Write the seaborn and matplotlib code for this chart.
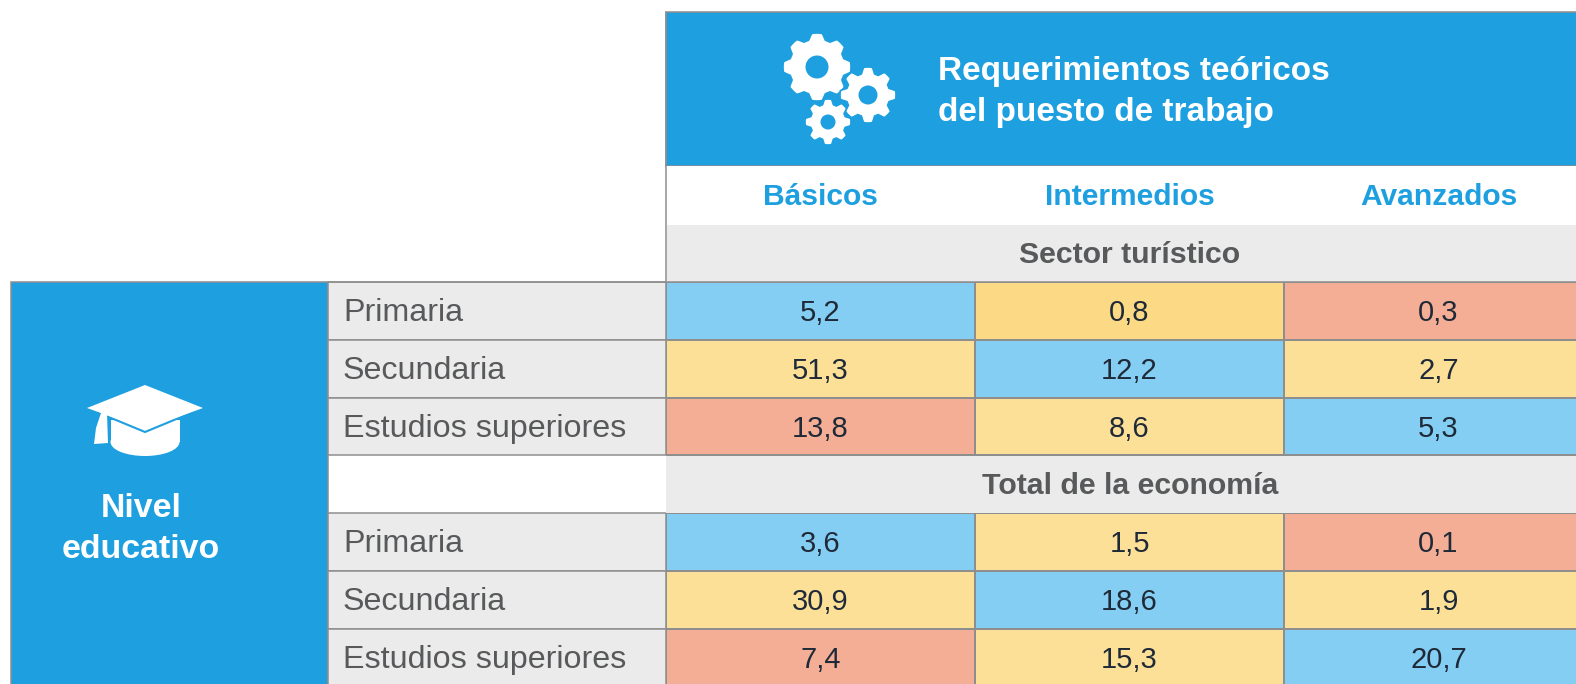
import numpy as np
import seaborn as sns
import matplotlib.pyplot as plt
from matplotlib.colors import ListedColormap
from matplotlib.patches import Rectangle, Polygon, Circle, Ellipse

# Table contents
columns = ["Básicos", "Intermedios", "Avanzados"]
row_labels = ["Primaria", "Secundaria", "Estudios superiores"]
sector_values = [["5,2", "0,8", "0,3"], ["51,3", "12,2", "2,7"], ["13,8", "8,6", "5,3"]]
total_values = [["3,6", "1,5", "0,1"], ["30,9", "18,6", "1,9"], ["7,4", "15,3", "20,7"]]
# colour group per cell: 0 blue, 1 yellow, 2 salmon, 3 darker yellow
sector_groups = [[0, 3, 2], [1, 0, 1], [2, 1, 0]]
total_groups = [[0, 1, 2], [1, 0, 1], [2, 1, 0]]
section_titles = ["Sector turístico", "Total de la economía"]
header_title = "Requerimientos teóricos\ndel puesto de trabajo"
side_title = "Nivel\neducativo"

BLUE = "#1d9fe0"
GREY = "#ebebeb"
LINE = "#8e8e8e"
TEXT = "#58595b"
palette = ["#85cef3", "#fde098", "#f3ae95", "#fbd985"]

W, H = 1576, 684
TABLE_X, TABLE_Y = 666, 282
CELL_W, CELL_H = 309, 57.8

sns.set_theme(style="white")
plt.rcParams["font.family"] = ["Liberation Sans", "DejaVu Sans"]

fig = plt.figure(figsize=(W / 100, H / 100), dpi=100)

# Pixel-space layer for the frames, labels and icons
bg = fig.add_axes([0, 0, 1, 1])
bg.set_xlim(0, W)
bg.set_ylim(H, 0)
bg.axis("off")

bg.add_patch(Rectangle((TABLE_X, 12), W, 154, fc=BLUE, ec=LINE, lw=1.1))
bg.add_patch(Rectangle((TABLE_X, 166), W, 59, fc="white", ec="none"))
bg.plot([TABLE_X, TABLE_X], [12, 282], color=LINE, lw=1.1)
bg.add_patch(Rectangle((TABLE_X + 1, 225), W, 57, fc=GREY, ec="none"))
bg.add_patch(Rectangle((11, TABLE_Y), 317, H, fc=BLUE, ec=LINE, lw=1.1))
bg.plot([328, W], [TABLE_Y, TABLE_Y], color=LINE, lw=1.1)


def gear(cx, cy, outer, root, hole):
    theta = np.linspace(0, 2 * np.pi, 800)
    r = root + (outer - root) * np.clip(0.9 * np.cos(8 * theta) + 0.7, 0, 1)
    pts = np.column_stack([cx + r * np.cos(theta), cy + r * np.sin(theta)])
    bg.add_patch(Polygon(pts, fc="white", ec=BLUE, lw=1.2, joinstyle="round"))
    bg.add_patch(Circle((cx, cy), hole, fc=BLUE, ec="none"))


gear(817, 67, 34, 28, 11.5)
gear(868, 95, 28, 22, 9.5)
gear(828, 122, 23, 18, 7.5)

# Graduation cap
bg.add_patch(Ellipse((145, 442), 69, 28, fc="white", ec="none"))
bg.add_patch(Polygon([(111, 420), (180, 420), (180, 442), (111, 442)], fc="white", ec="none"))
bg.add_patch(Polygon([(87, 408), (145, 385), (203, 408), (145, 432)], fc="white", ec=BLUE, lw=1.5))
bg.add_patch(Polygon([(87, 408), (145, 385), (203, 408), (145, 429)], fc="white", ec="none"))
bg.add_patch(Polygon([(101, 413), (107, 414), (108, 443), (94, 444), (96, 428)], fc="white", ec="none"))

bg.text(938, 92, header_title, color="white", fontsize=24, fontweight="bold",
        ha="left", va="center", linespacing=1.43)
bg.text(141, 529, side_title, color="white", fontsize=24.4, fontweight="bold",
        ha="center", va="center", linespacing=1.41)

# Row labels left of the grid
for s, top in enumerate([0, 4]):
    for i, label in enumerate(row_labels):
        y = TABLE_Y + (top + i) * CELL_H
        bg.add_patch(Rectangle((328, y), TABLE_X - 328, CELL_H, fc=GREY, ec=LINE, lw=1.1))
        bg.text(343, y + CELL_H / 2 + 2, label, color=TEXT, fontsize=23.2, ha="left", va="center")

# Grid: section row stays empty so only real cells get colour
groups = np.array(sector_groups + [[np.nan] * 3] + total_groups)
annot = np.array(sector_values + [[""] * 3] + total_values)

ax = fig.add_axes([TABLE_X / W, 0, (W - TABLE_X) / W, (H - TABLE_Y) / H])
sns.heatmap(
    groups,
    ax=ax,
    cmap=ListedColormap(palette),
    vmin=0,
    vmax=3,
    annot=annot,
    fmt="",
    annot_kws={"fontsize": 21, "color": "#1f2a38"},
    linewidths=1.1,
    linecolor=LINE,
    cbar=False,
    xticklabels=False,
    yticklabels=False,
)
ax.patch.set_alpha(0)
ax.set_xlim(0, (W - TABLE_X) / CELL_W)
ax.set_ylim((H - TABLE_Y) / CELL_H, 0)

# annotations sit slightly below the cell centre in the original
for t in ax.texts:
    x0, y0 = t.get_position()
    t.set_position((x0, y0 + 0.035))

# Section band covers the grid lines of the empty row
ax.add_patch(Rectangle((0, 3.01), 3, 0.98, fc=GREY, ec="none", zorder=3))

for j, name in enumerate(columns):
    centre = 1439 if j == 2 else TABLE_X + (j + 0.5) * CELL_W
    bg.text(centre, 197, name, color=BLUE, fontsize=21.6, fontweight="bold", ha="center", va="center")

bg.text(1130, 255, section_titles[0], color=TEXT, fontsize=21.8, fontweight="bold", ha="center", va="center")
ax.text((1130 - TABLE_X) / CELL_W, 3.53, section_titles[1], color=TEXT, fontsize=21.8, fontweight="bold",
        ha="center", va="center", zorder=4)

fig.savefig("out.png", dpi=100)
